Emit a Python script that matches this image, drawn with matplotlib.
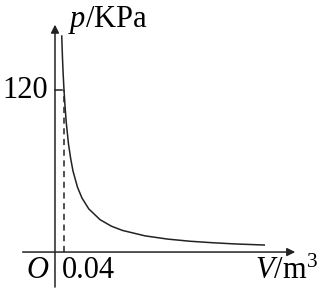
import matplotlib
matplotlib.use("Agg")
import matplotlib.pyplot as plt

plt.rcParams['font.family'] = ['Liberation Serif', 'DejaVu Serif']
plt.rcParams['mathtext.fontset'] = 'custom'
plt.rcParams['mathtext.rm'] = 'Liberation Serif'
plt.rcParams['mathtext.it'] = 'Liberation Serif:italic'

# isotherm (V in m^3, p in kPa)
volume = [0.030, 0.033, 0.036, 0.040, 0.045, 0.050, 0.060, 0.070, 0.080, 0.100,
          0.120, 0.150, 0.200, 0.250, 0.300, 0.400, 0.500, 0.600, 0.700, 0.800, 0.930]
pressure = [160, 145, 133, 120, 107, 96, 80, 69, 60, 48,
            40, 32, 24, 19.2, 16, 12, 9.6, 8, 6.9, 6, 5.2]
v_mark = 0.04
p_mark = 120

fig = plt.figure(figsize=(3.18, 2.92), dpi=100)
ax = fig.add_axes([0, 0, 1, 1])
ax.set_xlim(-0.2444, 1.1689)
ax.set_ylim(-29.6, 186.7)
ax.axis('off')

lw = 1.1
# axes with arrows
ax.annotate('', xy=(1.08, 0), xytext=(-0.156, 0),
            arrowprops=dict(arrowstyle='-|>', color='#222', lw=lw, mutation_scale=12))
ax.annotate('', xy=(0, 170.5), xytext=(0, -28),
            arrowprops=dict(arrowstyle='-|>', color='#222', lw=lw, mutation_scale=12))

ax.plot(volume, pressure, color='#222', lw=lw)
ax.plot([v_mark, v_mark], [0, p_mark], color='#222', lw=lw, ls=(0, (4, 3)))
ax.plot([0, 0.032], [p_mark, p_mark], color='#222', lw=lw)

fs = 22
ax.text(-0.03, p_mark, '120', fontsize=fs, ha='right', va='center')
ax.text(-0.03, -14, 'O', fontsize=fs, ha='right', va='center', style='italic')
ax.text(0.03, -14, '0.04', fontsize=fs, ha='left', va='center')
ax.text(0.89, -14, r'$V$/m$^3$', fontsize=fs, ha='left', va='center')
ax.text(0.06, 172, r'$p$/KPa', fontsize=fs, ha='left', va='center')

fig.savefig('out.png', dpi=100)
